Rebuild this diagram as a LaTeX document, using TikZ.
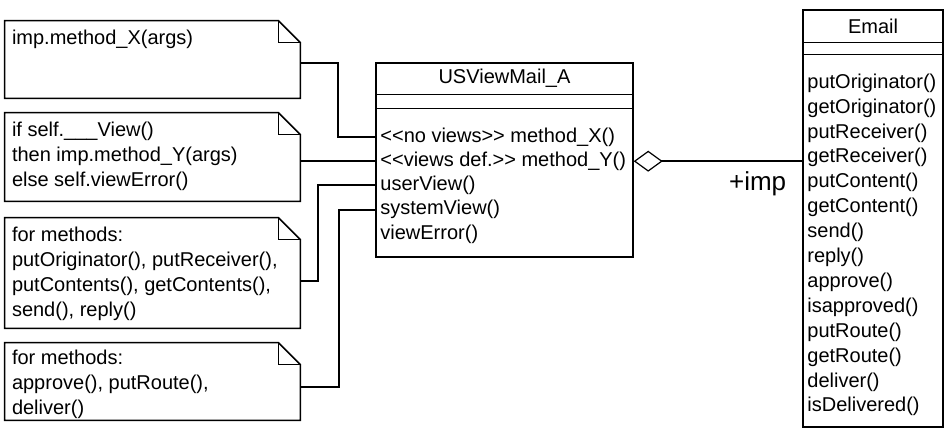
\documentclass[tikz,border=0pt]{standalone}
\usepackage{fontspec}
\setmainfont{Liberation Sans}
\usetikzlibrary{arrows.meta,calc}

\begin{document}
\begin{tikzpicture}[
    x=0.5pt,y=-0.5pt,
    font=\fontsize{10}{12.5}\selectfont,
    notebox/.style={minimum width=147.5pt,inner sep=0pt},
    noteline/.style={line width=0.8pt},
    notetext/.style={anchor=north west,align=left,inner sep=0pt},
    classbox/.style={draw,line width=0.7pt,inner sep=0pt},
    method/.style={anchor=west,inner xsep=2pt,inner ysep=0pt,text height=7.3pt,text depth=2.1pt},
    link/.style={line width=1pt}
]
\useasboundingbox (0,0) rectangle (948,435);

% notes on the left
\node[notebox,minimum height=38.5pt] (xnote) at (152.5,59.5) {};
\node[notebox,minimum height=44pt] (ynote) at (152.5,157) {};
\node[notebox,minimum height=55pt] (viewnote) at (152.5,273) {};
\node[notebox,minimum height=38.5pt] (routenote) at (152.5,381.5) {};
\foreach \n in {xnote,ynote,viewnote,routenote} {
    \draw[noteline] (\n.north west) -- ($(\n.north east)+(-22,0)$) -- ($(\n.north east)+(0,22)$)
        -- (\n.south east) -- (\n.south west) -- cycle;
    \draw[noteline] ($(\n.north east)+(-22,0)$) |- ($(\n.north east)+(0,22)$);
}
\node[notetext] (xtext) at ($(xnote.north west)+(7,9)$) {imp.method\_X(args)};
\node[notetext] (ytext) at ($(ynote.north west)+(7,9)$) {if self.\_\_\_View()\\then imp.method\_Y(args)\\else self.viewError()};
\node[notetext] (viewtext) at ($(viewnote.north west)+(7,9)$) {for methods:\\putOriginator(), putReceiver(),\\putContents(), getContents(),\\send(), reply()};
\node[notetext] (routetext) at ($(routenote.north west)+(7,6.5)$) {for methods:\\approve(), putRoute(),\\deliver()};

% class USViewMail_A
\node[classbox,minimum width=128.5pt,minimum height=97pt] (usbox) at (504.5,160) {};
\draw[classbox] ($(usbox.north west)+(0,32)$) -- ($(usbox.north east)+(0,32)$);
\draw[classbox] ($(usbox.north west)+(0,46)$) -- ($(usbox.north east)+(0,46)$);
\node (usname) at ($(usbox.north)+(0,16)$) {USViewMail\_A};
\foreach \m [count=\i] in {{<{}<no views>{}> method\_X()},{<{}<views def.>{}> method\_Y()},userView(),systemView(),viewError()}
    \node[method] (us\i) at (376,{137+(\i-1)*24.2}) {\m};

% class Email
\node[classbox,minimum width=70pt,minimum height=208.5pt] (email) at (873,218.5) {};
\draw[classbox] ($(email.north west)+(0,33)$) -- ($(email.north east)+(0,33)$);
\draw[classbox] ($(email.north west)+(0,45)$) -- ($(email.north east)+(0,45)$);
\node (emailname) at ($(email.north)+(0,17)$) {Email};
\foreach \m [count=\i from 0] in {putOriginator(),getOriginator(),putReceiver(),getReceiver(),putContent(),getContent(),send(),reply(),approve(),isapproved(),putRoute(),getRoute(),deliver(),isDelivered()}
    \node[method] (em\i) at (803,{83+\i*24.9}) {\m};

% connectors
\draw[link] ([yshift=-1.5pt]xnote.east) -- ++(38,0) |- (us1.west);
\draw[link] (ynote.east |- us2.west) -- (us2.west);
\draw[link] ([yshift=-4pt]viewnote.east) -- ++(18,0) |- (us3.west);
\draw[link] ([yshift=-2.5pt]routenote.east) -- ++(39,0) |- (us4.west);
\draw[link,{Diamond[open,length=14.5pt,width=10.5pt,line width=0.6pt]}-] (usbox.east |- us2) -- (email.west |- us2)
    node[pos=0.735,yshift=-11.5pt,font=\fontsize{13}{15}\selectfont] (imp) {+imp};
\end{tikzpicture}
\end{document}
